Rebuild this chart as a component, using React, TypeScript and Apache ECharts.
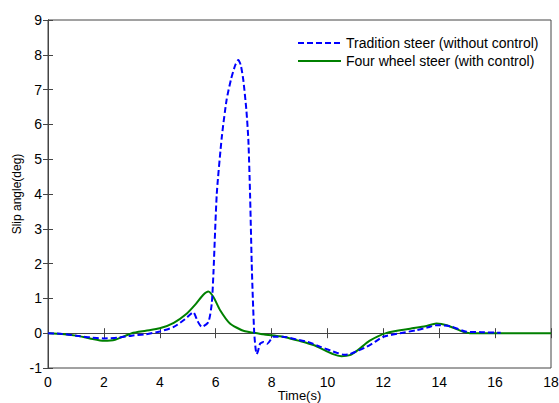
import React, { useEffect, useRef } from "react";
import * as echarts from "echarts";

const seriesNames = ["Tradition steer (without control)", "Four wheel steer (with control)"];

const tBlue = [0, 0.5, 1, 1.5, 2, 2.5, 3, 3.5, 4, 4.5, 4.9, 5.2, 5.35, 5.5, 5.74, 5.86, 5.92, 6.04, 6.22, 6.39, 6.55, 6.7, 6.81, 6.9, 6.99, 7.1, 7.17, 7.23, 7.29, 7.33, 7.38, 7.43, 7.47, 7.52, 7.59, 7.71, 7.85, 8.07, 8.4, 8.9, 9.3, 9.74, 10.33, 10.6, 10.8, 11.1, 11.4, 11.7, 12.0, 12.6, 13.2, 13.6, 13.9, 14.4, 14.98, 15.5, 16.2];
const vBlue = [0, -0.02, -0.07, -0.12, -0.15, -0.13, -0.07, -0.03, 0.05, 0.18, 0.4, 0.6, 0.35, 0.18, 0.32, 0.85, 1.72, 4.01, 5.64, 6.7, 7.3, 7.7, 7.85, 7.7, 7.27, 6.4, 5.55, 4.02, 2.0, 1.0, 0.0, -0.45, -0.6, -0.5, -0.3, -0.25, -0.3, -0.1, -0.1, -0.18, -0.25, -0.39, -0.56, -0.62, -0.6, -0.5, -0.39, -0.25, -0.1, 0.0, 0.09, 0.17, 0.23, 0.2, 0.04, 0.03, 0.01];

const tGreen = [0, 0.5, 1, 1.5, 2, 2.4, 3, 3.5, 4, 4.5, 4.96, 5.3, 5.55, 5.74, 5.92, 6.16, 6.51, 6.99, 7.7, 8.3, 8.66, 9.0, 9.5, 10.2, 10.5, 10.8, 11.1, 11.5, 12.12, 12.96, 13.5, 13.9, 14.27, 14.86, 15.1, 16, 17, 18];
const vGreen = [0, -0.02, -0.07, -0.15, -0.22, -0.19, 0.0, 0.07, 0.14, 0.3, 0.56, 0.85, 1.1, 1.2, 1.04, 0.66, 0.28, 0.07, -0.03, -0.09, -0.15, -0.22, -0.34, -0.6, -0.66, -0.63, -0.48, -0.22, 0.01, 0.13, 0.2, 0.28, 0.23, 0.04, 0.0, 0, 0, 0];

const FONT = "Arial, 'Liberation Sans', sans-serif";
const AXIS_COLOR = "#444";

export default function App() {
  const ref = useRef<HTMLDivElement>(null);
  useEffect(() => {
    if (!ref.current) return;
    const chart = echarts.init(ref.current, null, { renderer: "svg" });
    const tickStyle = { show: true, inside: true, length: 5, lineStyle: { color: AXIS_COLOR } };
    chart.setOption({
      animation: false,
      backgroundColor: "#fff",
      grid: {
        left: 48, right: 8, top: 20, bottom: 35,
        containLabel: false, outerBoundsMode: "none",
        show: true, borderColor: AXIS_COLOR, borderWidth: 1, backgroundColor: "#fff",
      },
      legend: {
        orient: "vertical",
        left: 292,
        top: 31,
        itemWidth: 43,
        itemHeight: 10,
        itemGap: 4,
        itemStyle: { opacity: 0 },
        textStyle: { fontFamily: FONT, fontSize: 14, color: "#000" },
        data: seriesNames,
      },
      xAxis: [
        {
          type: "value", min: 0, max: 18, interval: 2,
          name: "Time(s)", nameLocation: "middle", nameGap: 21, nameMoveOverlap: false,
          nameTextStyle: { fontFamily: FONT, fontSize: 13, color: "#000" },
          axisLine: { show: true, lineStyle: { color: AXIS_COLOR } },
          axisTick: tickStyle,
          axisLabel: { fontFamily: FONT, fontSize: 14, color: "#000", margin: 7 },
          splitLine: { show: false },
        },
        {
          type: "value", position: "top", min: 0, max: 18, interval: 2,
          axisLine: { show: true, lineStyle: { color: AXIS_COLOR } },
          axisTick: tickStyle, axisLabel: { show: false }, splitLine: { show: false },
        },
      ],
      yAxis: [
        {
          type: "value", min: -1, max: 9, interval: 1,
          name: "Slip angle(deg)", nameLocation: "middle", nameGap: 25, nameMoveOverlap: false,
          nameTextStyle: { fontFamily: FONT, fontSize: 12, color: "#000" },
          axisLine: { show: true, lineStyle: { color: AXIS_COLOR } },
          axisTick: tickStyle,
          axisLabel: { fontFamily: FONT, fontSize: 14, color: "#000", margin: 6 },
          splitLine: { show: false },
        },
        {
          type: "value", position: "right", min: -1, max: 9, interval: 1,
          axisLine: { show: true, lineStyle: { color: AXIS_COLOR } },
          axisTick: tickStyle, axisLabel: { show: false }, splitLine: { show: false },
        },
      ],
      series: [
        {
          name: seriesNames[0],
          type: "line",
          data: tBlue.map((t, i) => [t, vBlue[i]]),
          showSymbol: false, symbol: "none", smooth: 0.2,
          lineStyle: { color: "#0000ff", width: 2, type: [6, 3] },
          itemStyle: { color: "#0000ff" },
          z: 3,
        },
        {
          name: seriesNames[1],
          type: "line",
          data: tGreen.map((t, i) => [t, vGreen[i]]),
          showSymbol: false, symbol: "none", smooth: 0.2,
          lineStyle: { color: "#008000", width: 2 },
          itemStyle: { color: "#008000" },
          z: 2,
        },
      ],
    });
    return () => chart.dispose();
  }, []);
  return <div ref={ref} style={{ width: 559, height: 403, position: "absolute", left: 0, top: 0 }} />;
}
